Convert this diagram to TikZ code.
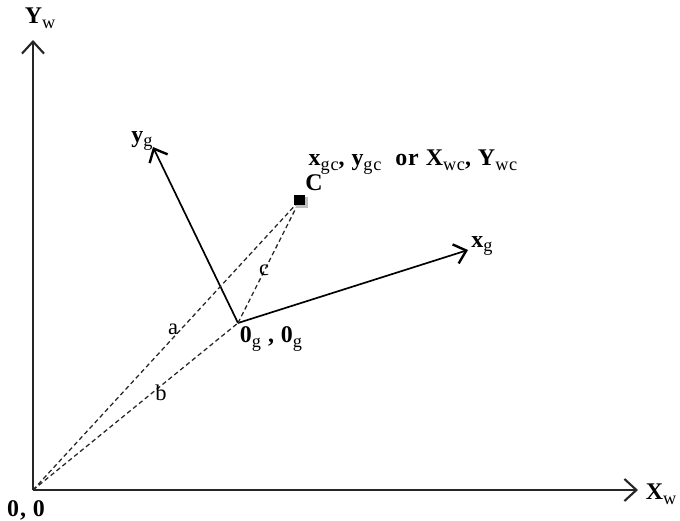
\documentclass[tikz,border=0pt]{standalone}
\usepackage{fontspec}
\setmainfont{Liberation Serif}[LetterSpace=4]
\usetikzlibrary{arrows.meta,positioning,calc}

\newcommand{\lowtxt}[1]{\raisebox{-0.45ex}{\fontsize{13}{14}\selectfont\mdseries #1}}

\begin{document}
\begin{tikzpicture}[
  x=0.025cm, y=-0.025cm,
  axis/.style={-{Straight Barb[length=3mm,width=5.5mm,line width=1.5pt]}, line width=1.5pt, black!85},
  frame/.style={-{Straight Barb[length=2.8mm,width=5mm,line width=1.7pt]}, line width=1.2pt},
  dist/.style={dash pattern=on 3.2pt off 2.2pt, line width=0.9pt, black!85},
  lbl/.style={font=\fontsize{17}{19}\selectfont\bfseries, inner sep=1pt},
  dlbl/.style={font=\fontsize{16}{18}\selectfont, inner sep=1pt}
]
\useasboundingbox (0,0) rectangle (680,521);

% points
\coordinate (O) at (33,490);
\coordinate (Og) at (238,323);
\coordinate (yend) at (33,40);
\coordinate (xend) at (638,490);
\coordinate (ygend) at (153,147);
\coordinate (xgend) at (468,250);
\node[minimum size=9pt, inner sep=0pt] (C) at (300,200) {};

% world axes
\draw[axis] (O) -- (yend);
\draw[axis] (O) -- (xend);

% gripper axes
\draw[frame] (Og) -- (ygend);
\draw[frame] (Og) -- (xgend);

% distances
\draw[dist] (O) -- (C.center);
\draw[dist] (O) -- (Og);
\draw[dist] (Og) -- (C.center);

% point C
\fill[black!25] ($(C.center)+(-4,-3)$) rectangle ($(C.center)+(8,8)$);
\fill[black] ($(C.center)+(-6,-5)$) rectangle ($(C.center)+(5,5)$);

% labels
\node[lbl] (Yw) at (40,18) {Y\lowtxt{w}};
\node[lbl] (Xw) at (661,494) {X\lowtxt{w}};
\node[lbl] (orig) at (26,510) {0, 0};
\node[lbl] (yg) at (142,141) {y\lowtxt{g}};
\node[lbl] (xg) at (482,246) {x\lowtxt{g}};
\node[lbl] (Cl) at (314,183) {C};
\node[lbl, anchor=west] (Cc) at (307,162) {x\lowtxt{gc}, y\lowtxt{gc} \ or X\lowtxt{wc}, Y\lowtxt{wc}};
\node[lbl] (Ogl) at (271,339) {0\lowtxt{g} , 0\lowtxt{g}};
\node[dlbl] (a) at (173,329) {a};
\node[dlbl] (b) at (161,393) {b};
\node[dlbl] (c) at (264,270) {c};
\end{tikzpicture}
\end{document}
